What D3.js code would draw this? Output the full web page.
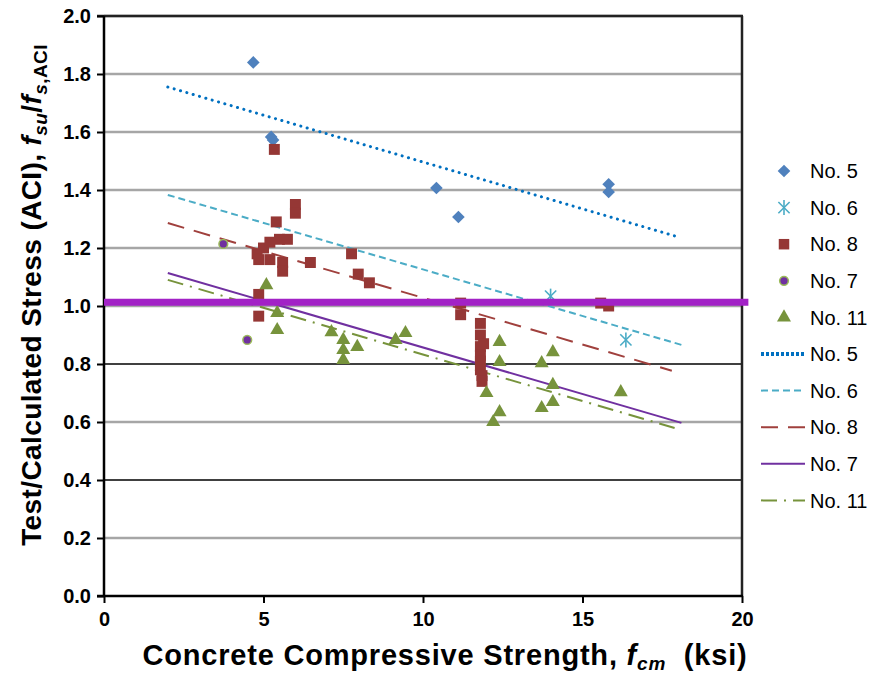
<!DOCTYPE html>
<html><head><meta charset="utf-8">
<script src="https://cdn.jsdelivr.net/npm/d3@7"></script>
<style>body{margin:0;background:#fff;} svg{display:block;font-family:"Liberation Sans",Arial,sans-serif;}</style>
</head><body>
<svg id="c" width="888" height="676"></svg>
<script>
// ---- data ----
const xTicks = [0, 5, 10, 15, 20];
const yTicks = [0.0, 0.2, 0.4, 0.6, 0.8, 1.0, 1.2, 1.4, 1.6, 1.8, 2.0];
const blackGrid = [0.4, 0.8];
const no5 = [[4.68,1.84],[5.24,1.583],[5.3,1.572],[10.42,1.407],[11.11,1.307],[15.82,1.42],[15.82,1.393]];
const no6 = [[14.0,1.034],[16.36,0.883]];
const no8 = [[4.8,1.18],[4.85,1.16],[5.0,1.20],[5.2,1.16],[5.2,1.22],[5.5,1.23],[5.75,1.23],[5.6,1.15],[5.6,1.12],[5.4,1.29],[5.34,1.54],[6.0,1.35],[6.0,1.32],[6.47,1.15],[7.76,1.18],[7.97,1.11],[8.32,1.08],[4.85,1.04],[4.85,0.965],[11.18,1.01],[11.18,0.97],[11.8,0.94],[11.8,0.90],[11.9,0.87],[11.8,0.86],[11.8,0.83],[11.8,0.81],[11.8,0.78],[11.85,0.76],[11.85,0.74],[15.57,1.01],[15.82,1.00]];
const no7 = [[3.74,1.214],[4.49,0.883]];
const no11 = [[5.09,1.072],[5.43,0.976],[5.43,0.917],[7.13,0.91],[7.5,0.883],[7.5,0.848],[7.5,0.814],[7.94,0.859],[9.14,0.883],[9.45,0.907],[12.4,0.876],[12.4,0.807],[11.99,0.70],[12.4,0.634],[12.2,0.60],[13.72,0.803],[14.07,0.841],[14.07,0.728],[14.07,0.669],[13.72,0.648],[16.2,0.703]];
const trend5 = [[2,1.755],[18,1.238]];
const trend6 = [[2,1.383],[18.1,0.866]];
const trend8 = [[2,1.286],[17.8,0.777]];
const trend7 = [[2,1.114],[18.1,0.597]];
const trend11 = [[2,1.09],[17.9,0.579]];
const refLine = [[0,1.013],[20.2,1.013]];
const legendLabels = ["No. 5","No. 6","No. 8","No. 7","No. 11","No. 5","No. 6","No. 8","No. 7","No. 11"];

// ---- layout ----
const svg = d3.select("#c");
const L = 104, R = 742, T = 16, B = 596;
const x = d3.scaleLinear().domain([0,20]).range([L,R]);
const y = d3.scaleLinear().domain([0,2]).range([B,T]);

// gridlines
svg.append("g").selectAll("line").data(yTicks.filter(v=>v>0)).join("line")
  .attr("x1",L).attr("x2",R).attr("y1",d=>y(d)).attr("y2",d=>y(d))
  .attr("stroke",d=>blackGrid.includes(d)?"#000":"#a6a6a6")
  .attr("stroke-width",d=>blackGrid.includes(d)?1.3:2.5);
svg.append("line").attr("x1",L-7).attr("x2",R+1).attr("y1",T).attr("y2",T).attr("stroke","#222").attr("stroke-width",2.5);
svg.append("line").attr("x1",R).attr("x2",R).attr("y1",T).attr("y2",B).attr("stroke","#222").attr("stroke-width",2.5);

// axes
const yAxis = svg.append("g").attr("transform",`translate(${L},0)`)
  .call(d3.axisLeft(y).tickValues(yTicks).tickFormat(d3.format(".1f")).tickSize(7).tickPadding(6));
const xAxis = svg.append("g").attr("transform",`translate(0,${B})`)
  .call(d3.axisBottom(x).tickValues(xTicks).tickSize(7).tickPadding(9));
[yAxis,xAxis].forEach(a=>{
  a.select(".domain").attr("stroke","#000").attr("stroke-width",2.5);
  a.selectAll(".tick line").attr("stroke","#000").attr("stroke-width",2);
  a.selectAll("text").attr("font-size",20).attr("font-weight","bold").attr("fill","#000").attr("font-family","'Liberation Sans',Arial,sans-serif");
});
xAxis.select(".domain").attr("d",`M${L-7},0H${R+1}`);
yAxis.select(".domain").attr("d",`M0,${B}V${T}`);

// trend lines
const line = d3.line().x(d=>x(d[0])).y(d=>y(d[1]));
const trendStyles = [
  {data:trend5, color:"#0070c0", w:3, dash:"0.1,6.5", cap:"round"},
  {data:trend6, color:"#4bacc6", w:2, dash:"7,4", cap:"butt"},
  {data:trend8, color:"#a0403d", w:2, dash:"17,10", cap:"butt"},
  {data:trend7, color:"#7030a0", w:2, dash:null, cap:"butt"},
  {data:trend11, color:"#77933c", w:2, dash:"16,7,2,7", cap:"butt"}
];
const tg = svg.append("g");
trendStyles.forEach(s=>{
  tg.append("path").attr("d",line(s.data)).attr("fill","none").attr("stroke",s.color)
    .attr("stroke-width",s.w).attr("stroke-dasharray",s.dash).attr("stroke-linecap",s.cap);
});

// markers
const mg = svg.append("g");
const sym = (type,size)=>d3.symbol().type(type).size(size)();
function drawPts(data, type, size, fill, stroke, sw, rot){
  mg.selectAll(null).data(data).join("path")
    .attr("transform",d=>`translate(${x(d[0])},${y(d[1])}) rotate(${rot||0})`)
    .attr("d",sym(type,size)).attr("fill",fill).attr("stroke",stroke||"none").attr("stroke-width",sw||0);
}
drawPts(no5, d3.symbolSquare, 80, "#4f81bd", null, 0, 45);
drawPts(no8, d3.symbolSquare, 120, "#953735");
drawPts(no7, d3.symbolCircle, 60, "#7030a0", "#9bbb59", 1.5);
drawPts(no11, d3.symbolTriangle, 85, "#77933c");
function asterisk(g, cx, cy, r, color){
  const a = r*0.75;
  [[0,-r,0,r],[-a,-a,a,a],[-a,a,a,-a]].forEach(s=>{
    g.append("line").attr("x1",cx+s[0]).attr("y1",cy+s[1]).attr("x2",cx+s[2]).attr("y2",cy+s[3])
     .attr("stroke",color).attr("stroke-width",1.6);
  });
}
no6.forEach(d=>asterisk(mg, x(d[0]), y(d[1]), 7.5, "#4bacc6"));

// reference line at ~1.0
svg.append("path").attr("d",line(refLine)).attr("stroke","#a222c6").attr("stroke-width",7).attr("fill","none");

// axis titles
const yt = svg.append("text").attr("transform","translate(41,295) rotate(-90)").attr("text-anchor","middle")
  .attr("font-size",28).attr("font-weight","bold").attr("letter-spacing",0.4).attr("fill","#000");
yt.append("tspan").text("Test/Calculated Stress (ACI), ");
yt.append("tspan").attr("font-style","italic").text("f");
yt.append("tspan").attr("font-style","italic").attr("font-size",19).attr("dy",6).text("su");
yt.append("tspan").attr("dy",-6).text("/");
yt.append("tspan").attr("font-style","italic").text("f");
yt.append("tspan").attr("font-size",19).attr("dy",6).attr("font-style","italic").text("s");
yt.append("tspan").attr("font-size",19).text(",ACI");

const xt = svg.append("text").attr("x",445).attr("y",665).attr("text-anchor","middle")
  .attr("font-size",29).attr("font-weight","bold").attr("letter-spacing",0.8).attr("fill","#000");
xt.append("tspan").text("Concrete Compressive Strength, ");
xt.append("tspan").attr("font-style","italic").text("f");
xt.append("tspan").attr("font-style","italic").attr("font-size",19).attr("dy",5).text("cm");
xt.append("tspan").attr("dy",-5).text("\u00a0 (ksi)");

// legend
const lg = svg.append("g");
const ly0 = 171, ldy = 36.6, lx = 784, ltx = 810;
const markerDefs = [
  {t:"sym", type:d3.symbolSquare, size:80, fill:"#4f81bd", rot:45},
  {t:"ast"},
  {t:"sym", type:d3.symbolSquare, size:110, fill:"#953735"},
  {t:"sym", type:d3.symbolCircle, size:60, fill:"#7030a0", stroke:"#9bbb59"},
  {t:"sym", type:d3.symbolTriangle, size:85, fill:"#77933c"}
];
legendLabels.forEach((lab,i)=>{
  const cy = ly0 + i*ldy;
  if(i<5){
    const m = markerDefs[i];
    if(m.t==="ast") asterisk(lg, lx, cy, 7.5, "#4bacc6");
    else lg.append("path").attr("transform",`translate(${lx},${cy}) rotate(${m.rot||0})`).attr("d",sym(m.type,m.size))
      .attr("fill",m.fill).attr("stroke",m.stroke||"none").attr("stroke-width",m.stroke?1.5:0);
  } else {
    const s = trendStyles[i-5];
    lg.append("line").attr("x1",761).attr("x2",805).attr("y1",cy).attr("y2",cy)
      .attr("stroke",s.color).attr("stroke-width",i===5?4:s.w).attr("stroke-dasharray",i===5?"3,2":s.dash)
      .attr("stroke-linecap","butt");
  }
  lg.append("text").attr("x",ltx).attr("y",cy).attr("dy","0.36em").attr("font-size",20).attr("fill","#000").text(lab);
});
</script>
</body></html>
